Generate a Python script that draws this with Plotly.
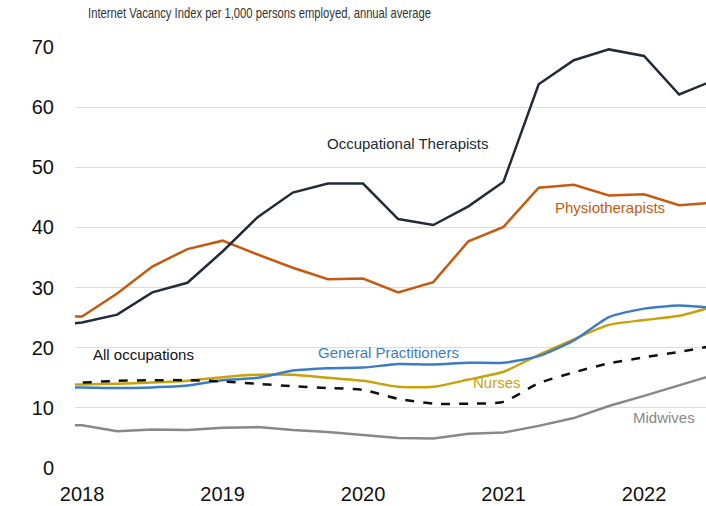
import plotly.graph_objects as go

quarters = [2017.75, 2018.0, 2018.25, 2018.5, 2018.75, 2019.0, 2019.25, 2019.5, 2019.75,
            2020.0, 2020.25, 2020.5, 2020.75, 2021.0, 2021.25, 2021.5, 2021.75,
            2022.0, 2022.25, 2022.5]

occupational_therapists = [23.5, 24.2, 25.5, 29.2, 30.8, 36.0, 41.7, 45.8, 47.3, 47.3, 41.4, 40.4,
                           43.5, 47.6, 63.8, 67.8, 69.6, 68.5, 62.1, 64.5]
physiotherapists = [25.2, 25.2, 29.0, 33.5, 36.4, 37.8, 35.5, 33.3, 31.4, 31.5, 29.2, 30.9,
                    37.7, 40.1, 46.6, 47.1, 45.3, 45.5, 43.7, 44.1]
general_practitioners = [13.4, 13.4, 13.3, 13.4, 13.7, 14.6, 15.0, 16.2, 16.6, 16.7, 17.3, 17.2,
                         17.5, 17.5, 18.6, 21.2, 25.1, 26.5, 27.0, 26.6]
nurses = [13.8, 13.9, 14.0, 14.2, 14.5, 15.1, 15.5, 15.5, 15.0, 14.5, 13.5, 13.5,
          14.7, 16.0, 18.8, 21.4, 23.8, 24.6, 25.3, 26.9]
all_occupations = [14.1, 14.2, 14.5, 14.6, 14.6, 14.4, 14.0, 13.6, 13.3, 13.0, 11.5, 10.7,
                   10.7, 11.0, 14.1, 15.9, 17.4, 18.4, 19.3, 20.35]
midwives = [7.2, 7.1, 6.1, 6.4, 6.3, 6.7, 6.8, 6.3, 6.0, 5.5, 5.0, 4.9,
            5.7, 5.9, 7.0, 8.3, 10.3, 12.0, 13.8, 15.5]

year_ticks = [2018, 2019, 2020, 2021, 2022]
year_labels = ["2018", "2019", "2020", "2021", "2022"]
y_ticks = [0, 10, 20, 30, 40, 50, 60, 70]

SUBTITLE = "Internet Vacancy Index per 1,000 persons employed, annual average"

C_OT = "#222b38"
C_PH = "#c55a11"
C_GP = "#3b7dc4"
C_NU = "#c9a20a"
C_MW = "#888888"
C_ALL = "#111111"

series = [
    ("Midwives", midwives, C_MW, "solid", "linear"),
    ("Nurses", nurses, C_NU, "solid", "spline"),
    ("General Practitioners", general_practitioners, C_GP, "solid", "spline"),
    ("All occupations", all_occupations, C_ALL, "dash", "spline"),
    ("Physiotherapists", physiotherapists, C_PH, "solid", "linear"),
    ("Occupational Therapists", occupational_therapists, C_OT, "solid", "linear"),
]

fig = go.Figure()
for name, vals, col, dash, shape in series:
    fig.add_trace(go.Scatter(
        x=quarters, y=vals, mode="lines", name=name,
        line=dict(color=col, width=2.5, dash=dash, shape=shape,
                  smoothing=0.6 if shape == "spline" else None),
        showlegend=False, hoverinfo="skip"))

labels = [
    ("Occupational Therapists", 2020.32, 54.0, C_OT),
    ("Physiotherapists", 2021.76, 43.3, C_PH),
    ("All occupations", 2018.44, 18.9, "#111111"),
    ("General Practitioners", 2020.18, 19.15, C_GP),
    ("Nurses", 2020.95, 14.3, C_NU),
    ("Midwives", 2022.14, 8.4, C_MW),
]
for txt, xv, yv, col in labels:
    fig.add_annotation(x=xv, y=yv, text=txt, showarrow=False,
                       font=dict(family="Liberation Sans, Arial", size=15, color=col),
                       xanchor="center", yanchor="middle")

# subtitle, centred at about 260 px of the page
fig.add_annotation(xref="paper", yref="paper", x=(259.5 - 75) / 631, y=1.0, yshift=34,
                   text=SUBTITLE, showarrow=False, xanchor="center", yanchor="middle",
                   font=dict(family="Liberation Sans, Arial", size=14.5, color="#333333"))

fig.update_layout(
    width=706, height=506,
    margin=dict(l=75, r=0, t=47, b=38),
    paper_bgcolor="white", plot_bgcolor="white",
    font=dict(family="Liberation Sans, Arial", color="#111111"),
    xaxis=dict(range=[2017.95, 2022.441], tickvals=year_ticks, ticktext=year_labels,
               showgrid=False, zeroline=False, showline=False, ticks="",
               ticklabelstandoff=12, tickfont=dict(size=20, color="#111111")),
    yaxis=dict(range=[0, 70], tickvals=y_ticks, showgrid=True, gridcolor="#dddddd",
               gridwidth=1, zeroline=False, showline=False, ticks="",
               ticklabelstandoff=20, tickfont=dict(size=20, color="#111111")),
)

post = """
document.body.style.margin='0';
document.body.style.overflow='hidden';
var gd = document.getElementById('{plot_id}');
function squeeze(){
  gd.querySelectorAll('.annotation-text').forEach(function(t){
    if (t.textContent.indexOf('Internet Vacancy') === 0) {
      t.setAttribute('textLength', '343');
      t.setAttribute('lengthAdjust', 'spacingAndGlyphs');
    }
  });
}
squeeze();
if (gd.on) { gd.on('plotly_afterplot', squeeze); }
"""

fig.write_html("out.html", config={"displayModeBar": False}, post_script=post)
